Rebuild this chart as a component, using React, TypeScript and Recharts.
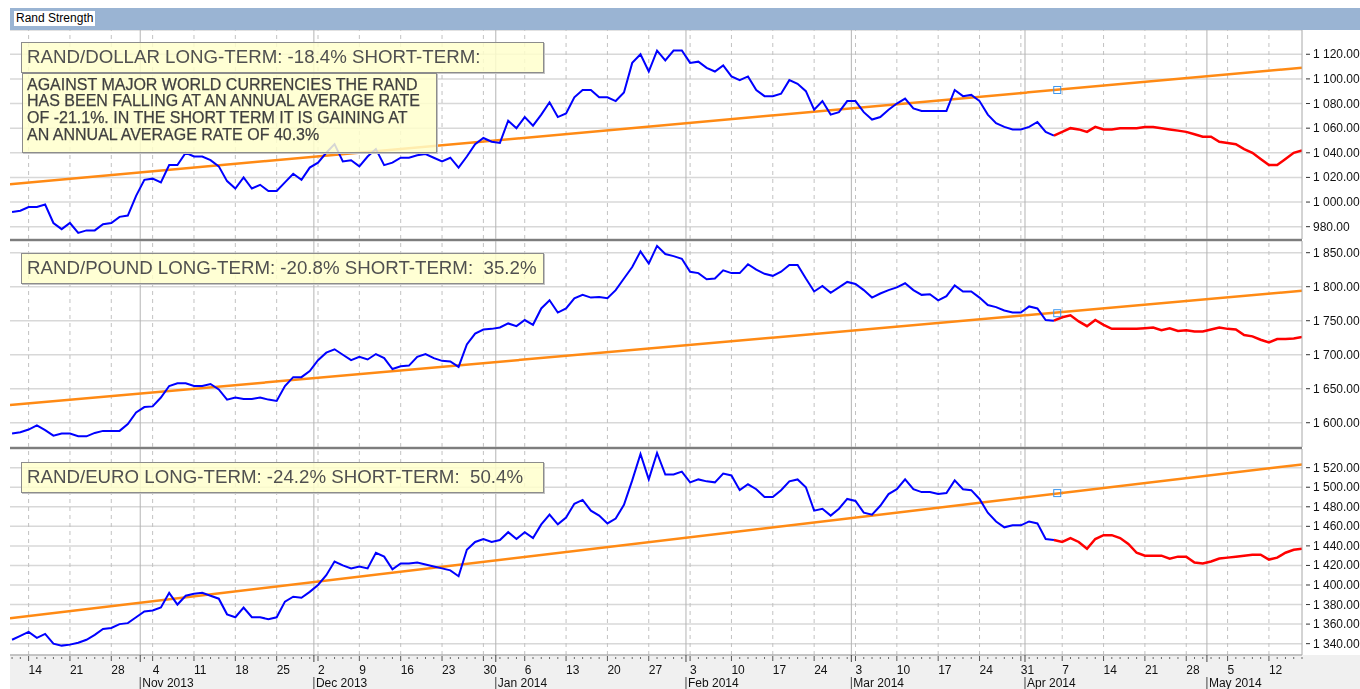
import React from "react";
import {
  CartesianGrid,
  Line,
  LineChart,
  ReferenceDot,
  ReferenceLine,
  XAxis,
  YAxis,
} from "recharts";

// trading-day index 0 = Thu 10 Oct 2013, 156 = Fri 16 May 2014
const dayLabels = [
  "14", "21", "28", "4", "11", "18", "25", "2", "9", "16", "23", "30",
  "6", "13", "20", "27", "3", "10", "17", "24", "3", "10", "17", "24", "31",
  "7", "14", "21", "28", "5", "12",
];
const monthLabels = ["Nov 2013", "Dec 2013", "Jan 2014", "Feb 2014", "Mar 2014", "Apr 2014", "May 2014"];
const monthIdx = [15.5, 36.5, 58.5, 81.5, 101.5, 122.5, 144.5];
const mondayIdx = dayLabels.map((_, k) => 2 + 5 * k);

const splitIdx = 126; // history (blue) ends, recent (red) starts
const markIdx = 126.4;

const usdHistory = [
  992, 993, 996, 996, 998, 983, 978, 983, 975, 977,
  977, 982, 983, 988, 989, 1005, 1018, 1019, 1016, 1030,
  1030, 1040, 1037, 1037, 1034, 1029, 1017, 1011, 1020, 1011,
  1014, 1009, 1009, 1016, 1023, 1018, 1028, 1032, 1040, 1047,
  1033, 1034, 1029, 1037, 1043, 1030, 1032, 1036, 1036, 1038,
  1039, 1036, 1033, 1036, 1028, 1037, 1047, 1052, 1049, 1048,
  1066, 1060, 1069, 1062, 1071, 1081, 1069, 1072, 1085, 1091,
  1091, 1085, 1085, 1082, 1089, 1113, 1120, 1106, 1123, 1115,
  1123, 1123, 1113, 1114, 1109, 1106, 1111, 1102, 1099, 1102,
  1091, 1086, 1086, 1088, 1099, 1096, 1090, 1075, 1082, 1071,
  1073, 1082, 1082, 1073, 1067, 1069, 1075, 1080, 1084, 1076,
  1074, 1074, 1074, 1074, 1091, 1086, 1087, 1082, 1071, 1064,
  1061, 1059, 1059, 1061, 1065, 1057, 1054,
];
const usdRecent = [
  1054, 1057, 1060, 1059, 1057, 1061, 1059, 1059, 1060, 1060,
  1060, 1061, 1061, 1060, 1059, 1058, 1057, 1055, 1053, 1053,
  1049, 1048, 1047, 1043, 1040, 1035, 1030, 1030, 1035, 1040,
  1042,
];
const usdTrend = [1014.5, 1109.1];
const usdMark = 1091;

const gbpHistory = [
  1584, 1586, 1590, 1596, 1589, 1581, 1584, 1584, 1580, 1580,
  1585, 1588, 1588, 1588, 1598, 1615, 1623, 1624, 1637, 1654,
  1658, 1658, 1654, 1654, 1657, 1649, 1634, 1637, 1635, 1635,
  1637, 1634, 1632, 1654, 1667, 1667, 1676, 1692, 1703, 1708,
  1700, 1692, 1697, 1693, 1701, 1695, 1679, 1683, 1684, 1697,
  1701, 1695, 1691, 1690, 1682, 1715, 1731, 1737, 1738, 1740,
  1746, 1742, 1751, 1744, 1768, 1780, 1762, 1768, 1783, 1788,
  1784, 1785, 1783, 1795, 1812, 1829, 1852, 1834, 1860, 1848,
  1845, 1841, 1822, 1820, 1811, 1812, 1824, 1820, 1820, 1833,
  1825, 1819, 1816, 1822, 1832, 1832, 1812, 1793, 1801, 1791,
  1799, 1807, 1804, 1795, 1784, 1790, 1795, 1799, 1805, 1795,
  1788, 1789, 1780, 1786, 1802, 1793, 1793, 1784, 1773, 1770,
  1765, 1762, 1762, 1771, 1768, 1751, 1750,
];
const gbpRecent = [
  1750, 1755, 1758, 1749, 1742, 1751, 1744, 1738, 1738, 1738,
  1738, 1739, 1740, 1736, 1739, 1735, 1736, 1734, 1734, 1737,
  1740, 1738, 1737, 1729, 1727, 1722, 1718, 1723, 1723, 1724,
  1726,
];
const gbpTrend = [1626, 1794];
const gbpMark = 1761;

const eurHistory = [
  1344, 1348, 1352, 1346, 1350, 1340, 1338, 1339, 1341, 1344,
  1349, 1355, 1356, 1360, 1361, 1367, 1373, 1374, 1377, 1392,
  1380, 1389, 1391, 1392, 1389, 1386, 1370, 1367, 1377, 1367,
  1367, 1365, 1367, 1383, 1388, 1387, 1393, 1400, 1410, 1424,
  1420, 1417, 1419, 1417, 1433, 1429, 1416, 1422, 1422, 1423,
  1421, 1419, 1417, 1415, 1409, 1436, 1444, 1447, 1444, 1446,
  1454, 1447, 1454, 1448, 1462, 1472, 1462, 1469, 1483, 1487,
  1476, 1471, 1463, 1468, 1482, 1507, 1534, 1508, 1535, 1513,
  1513, 1516, 1505, 1508, 1506, 1505, 1514, 1512, 1497, 1503,
  1498, 1490, 1490, 1497, 1506, 1508, 1500, 1476, 1478, 1471,
  1478, 1488, 1486, 1474, 1472, 1481, 1493, 1498, 1508, 1498,
  1495, 1495, 1493, 1494, 1507, 1498, 1497, 1488, 1474, 1465,
  1459, 1461, 1461, 1465, 1463, 1447, 1446,
];
const eurRecent = [
  1446, 1444, 1448, 1444, 1437, 1447, 1451, 1451, 1448, 1442,
  1433, 1430, 1430, 1430, 1427, 1429, 1429, 1423, 1422, 1424,
  1427, 1428, 1429, 1430, 1431, 1431, 1426, 1428, 1433, 1436,
  1437,
];
const eurTrend = [1366, 1523.3];
const eurMark = 1494;

const usdTicks = [980, 1000, 1020, 1040, 1060, 1080, 1100, 1120];
const gbpTicks = [1600, 1650, 1700, 1750, 1800, 1850];
const eurTicks = [1340, 1360, 1380, 1400, 1420, 1440, 1460, 1480, 1500, 1520];

const X_DOMAIN: [number, number] = [-0.25, 156];
const FONT = '"Liberation Sans", Arial, sans-serif';
const CHART_W = 1350;
const AXIS_W = 58;

function fmtPrice(v: number) {
  const [int, dec] = v.toFixed(2).split(".");
  return `${int.replace(/\B(?=(\d{3})+(?!\d))/g, " ")}.${dec}`;
}

function buildRows(history: number[], recent: number[]) {
  const rows = [];
  for (let i = 0; i < splitIdx + recent.length; i++) {
    rows.push({
      i,
      hist: i <= splitIdx ? history[i] : undefined,
      recent: i >= splitIdx ? recent[i - splitIdx] : undefined,
    });
  }
  return rows;
}

const PriceTick = (props: any) => {
  const { x, y, payload } = props;
  return (
    <g>
      <line x1={x + 4} x2={x + 8} y1={y} y2={y} stroke="#333" />
      <text x={x + 11} y={y + 4} fontSize={12} fontFamily={FONT} fill="#111">
        {fmtPrice(payload.value)}
      </text>
    </g>
  );
};

const DateTick = (props: any) => {
  const { x, y, payload } = props;
  const v = payload.value;
  const m = monthIdx.indexOf(v);
  if (m >= 0) {
    return (
      <g>
        <line x1={x} x2={x} y1={y} y2={y + 7} stroke="#444" />
        <line x1={x} x2={x} y1={y + 22} y2={y + 34} stroke="#444" />
        <text x={x + 2} y={y + 32} fontSize={12} fontFamily={FONT} fill="#111">
          {monthLabels[m]}
        </text>
      </g>
    );
  }
  const d = mondayIdx.indexOf(v);
  if (d >= 0) {
    return (
      <g>
        <line x1={x} x2={x} y1={y + 1} y2={y + 6} stroke="#555" />
        <text x={x} y={y + 19} fontSize={12} fontFamily={FONT} fill="#111">
          {dayLabels[d]}
        </text>
      </g>
    );
  }
  return <line x1={x} x2={x} y1={y + 2} y2={y + 4} stroke="#666" />;
};

const MarkShape = (props: any) => (
  <rect x={props.cx - 3.5} y={props.cy - 3.5} width={7} height={7} fill="none" stroke="#3a96f0" strokeWidth={1} />
);

interface PanelProps {
  height: number;
  history: number[];
  recent: number[];
  trend: number[];
  mark: number;
  domain: [number, number];
  ticks: number[];
  showAxis?: boolean;
}

function Panel({ height, history, recent, trend, mark, domain, ticks, showAxis = false }: PanelProps) {
  const rows = buildRows(history, recent);
  const trendRows = [
    { i: X_DOMAIN[0], trend: trend[0] },
    { i: X_DOMAIN[1], trend: trend[1] },
  ];
  const allDays = rows.map((r) => r.i);
  return (
    <LineChart width={CHART_W} height={height} data={rows} margin={{ top: 0, right: 0, left: 0, bottom: 0 }}>
      <CartesianGrid vertical={false} stroke="#d8d8d8" strokeWidth={1.5} />
      {mondayIdx.map((m) => (
        <ReferenceLine key={`w${m}`} x={m} stroke="#c2c2c2" strokeDasharray="4 4" ifOverflow="hidden" />
      ))}
      {monthIdx.map((m) => (
        <ReferenceLine key={`m${m}`} x={m} stroke="#b4b4b4" ifOverflow="hidden" />
      ))}
      <XAxis
        type="number"
        dataKey="i"
        domain={X_DOMAIN}
        allowDataOverflow
        hide={!showAxis}
        height={showAxis ? 34 : 0}
        ticks={showAxis ? [...allDays, ...monthIdx] : undefined}
        interval={0}
        tickSize={0}
        tickMargin={0}
        tickLine={false}
        axisLine={{ stroke: "#a8a8a8" }}
        tick={(p: any) => <DateTick {...p} />}
      />
      <YAxis
        orientation="right"
        width={AXIS_W}
        domain={domain}
        ticks={ticks}
        interval={0}
        allowDataOverflow
        tickSize={0}
        tickMargin={0}
        tickLine={false}
        axisLine={{ stroke: "#a8a8a8" }}
        tick={(p: any) => <PriceTick {...p} />}
      />
      <Line
        data={trendRows}
        dataKey="trend"
        stroke="#ff8a14"
        strokeWidth={2.5}
        dot={false}
        activeDot={false}
        isAnimationActive={false}
      />
      <Line dataKey="hist" stroke="#0000ff" strokeWidth={2} dot={false} activeDot={false} isAnimationActive={false} />
      <Line dataKey="recent" stroke="#ff0000" strokeWidth={2.5} dot={false} activeDot={false} isAnimationActive={false} />
      <ReferenceDot x={markIdx} y={mark} r={4} shape={(p: any) => <MarkShape {...p} />} />
    </LineChart>
  );
}

const boxStyle: React.CSSProperties = {
  position: "absolute",
  background: "rgba(255, 255, 204, 0.84)",
  border: "1px solid #8c8c8c",
  boxShadow: "1px 1px 0 #c4c4c4",
  boxSizing: "border-box",
  fontFamily: FONT,
  color: "#505050",
  whiteSpace: "pre",
  zIndex: 5,
};

const headStyle: React.CSSProperties = {
  ...boxStyle,
  left: 11,
  width: 523,
  height: 31,
  fontSize: 18.7,
  lineHeight: "28px",
  paddingLeft: 5,
};

export default function App() {
  return (
    <div style={{ position: "fixed", left: 10, top: 8, width: CHART_W, height: 681, fontFamily: FONT }}>
      {/* title bar */}
      <div style={{ position: "absolute", left: 0, top: 0, width: CHART_W, height: 22, background: "#9ab4d3" }}>
        <div
          style={{
            position: "absolute",
            left: 4,
            top: 3,
            height: 15,
            padding: "0 2px",
            background: "#fff",
            fontSize: 12,
            lineHeight: "15px",
            color: "#000",
          }}
        >
          Rand Strength
        </div>
      </div>

      {/* x-axis strip */}
      <div style={{ position: "absolute", left: 0, top: 647, width: CHART_W, height: 34, background: "#f0f0f0" }} />

      <div style={{ position: "absolute", left: 0, top: 22 }}>
        <Panel height={209} history={usdHistory} recent={usdRecent} trend={usdTrend} mark={usdMark} domain={[970, 1139.7]} ticks={usdTicks} />
      </div>
      <div style={{ position: "absolute", left: 0, top: 231, width: 1292, height: 2, background: "#7d7d7d" }} />
      <div style={{ position: "absolute", left: 0, top: 233 }}>
        <Panel height={206} history={gbpHistory} recent={gbpRecent} trend={gbpTrend} mark={gbpMark} domain={[1564.3, 1867.2]} ticks={gbpTicks} />
      </div>
      <div style={{ position: "absolute", left: 0, top: 439, width: 1292, height: 2, background: "#7d7d7d" }} />
      <div style={{ position: "absolute", left: 0, top: 441 }}>
        <Panel height={240} history={eurHistory} recent={eurRecent} trend={eurTrend} mark={eurMark} domain={[1328.4, 1539.1]} ticks={eurTicks} showAxis />
      </div>

      {/* annotation boxes */}
      <div style={{ ...headStyle, top: 34 }}>RAND/DOLLAR LONG-TERM: -18.4% SHORT-TERM:</div>
      <div
        style={{
          ...boxStyle,
          left: 12,
          top: 65,
          width: 415,
          height: 80,
          fontSize: 16,
          lineHeight: "16.8px",
          padding: "2.5px 0 0 4px",
          color: "#3f3f3f",
          WebkitTextStroke: "0.25px #3f3f3f",
        }}
      >
        {"AGAINST MAJOR WORLD CURRENCIES THE RAND\nHAS BEEN FALLING AT AN ANNUAL AVERAGE RATE\nOF -21.1%. IN THE SHORT TERM IT IS GAINING AT\nAN ANNUAL AVERAGE RATE OF 40.3%"}
      </div>
      <div style={{ ...headStyle, top: 245 }}>RAND/POUND LONG-TERM: -20.8% SHORT-TERM:  35.2%</div>
      <div style={{ ...headStyle, top: 454 }}>RAND/EURO LONG-TERM: -24.2% SHORT-TERM:  50.4%</div>
    </div>
  );
}
